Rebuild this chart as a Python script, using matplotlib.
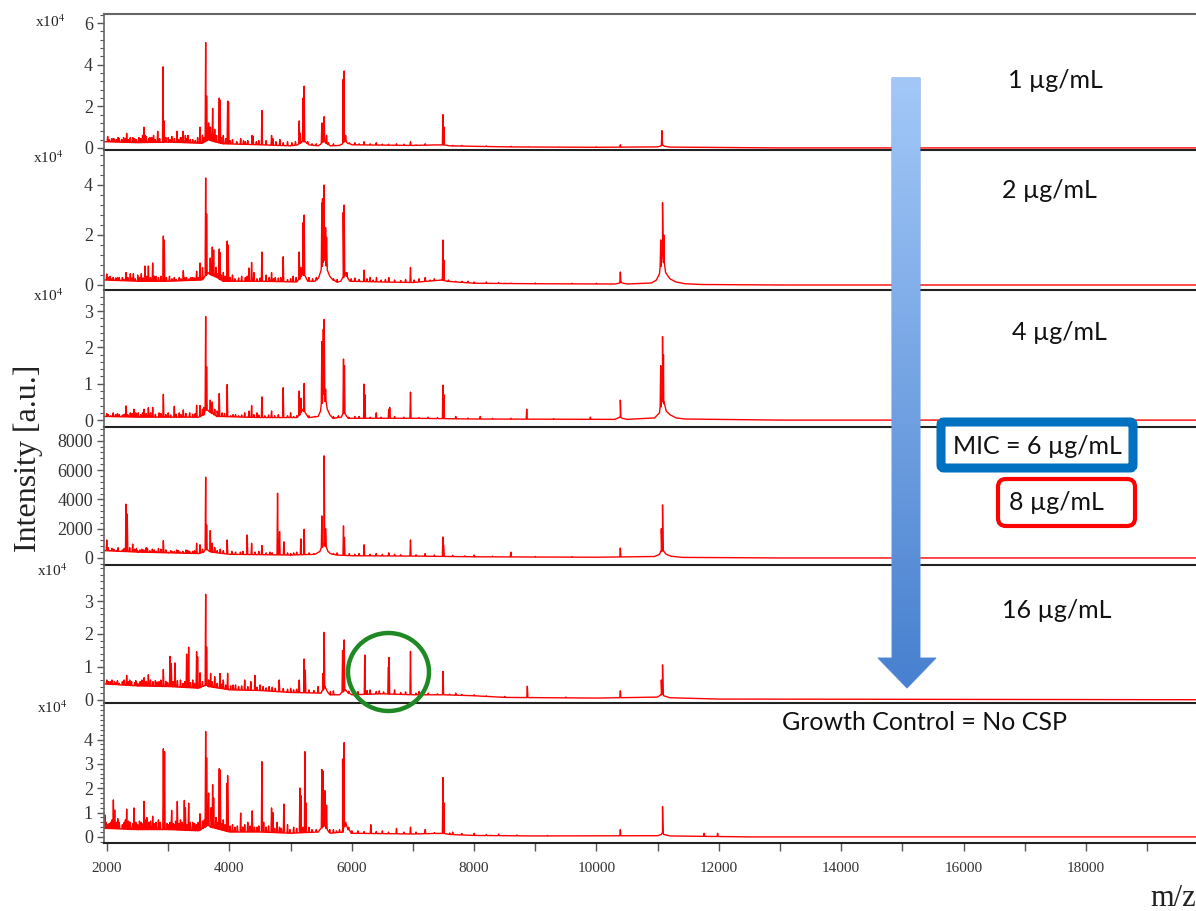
import numpy as np
import matplotlib
matplotlib.use('Agg')
import matplotlib.pyplot as plt
from matplotlib.ticker import FixedLocator, AutoMinorLocator
from matplotlib.patches import Polygon, FancyBboxPatch, Ellipse
from matplotlib.colors import LinearSegmentedColormap

plt.rcParams['font.family'] = ['Liberation Serif', 'DejaVu Serif']
plt.rcParams['mathtext.fontset'] = 'stix'

# ---- spectra: peak apexes (m/z, intensity), small noise spikes, baseline knots ----
# intensities in units of 1e4 except panel 4 (raw counts)
p1_mz = [2010, 2080, 2150, 2200, 2270, 2321, 2380, 2450, 2520, 2580, 2604, 2640,
         2700, 2760, 2828, 2915, 2930, 3000, 3060, 3143, 3200, 3241, 3280, 3323,
         3400, 3519, 3560, 3612, 3627, 3660, 3690, 3726, 3760, 3834, 3848, 3900,
         3971, 3985, 4050, 4184, 4300, 4372, 4386, 4531, 4689, 4710, 4825, 4950,
         5141, 5160, 5206, 5222, 5511, 5549, 5588, 5860, 5876, 5900, 6050, 6200,
         6400, 6731, 6960, 7200, 7490, 7505, 7800, 8200, 8600, 10390, 11070]
p1_int = [0.55, 0.45, 0.4, 0.45, 0.5, 0.7, 0.5, 0.45, 0.5, 0.6, 1.0, 0.55,
          0.5, 0.6, 0.8, 3.9, 1.3, 0.5, 0.55, 0.8, 0.5, 0.8, 0.6, 0.6,
          0.4, 1.0, 0.6, 5.07, 2.5, 1.2, 1.0, 1.9, 0.9, 2.4, 2.3, 0.6,
          2.25, 2.2, 0.4, 0.45, 0.35, 0.6, 0.55, 1.8, 0.6, 0.45, 0.4, 0.3,
          1.3, 0.7, 2.4, 2.97, 1.2, 1.5, 0.6, 3.3, 3.7, 0.6, 0.25, 0.3,
          0.25, 0.2, 0.3, 0.2, 1.6, 1.0, 0.12, 0.1, 0.08, 0.15, 0.83]
p1_small_mz = [2040, 2110, 2180, 2240, 2300, 2350, 2420, 2480, 2550, 2620, 2680, 2730,
               2790, 2860, 2960, 3030, 3100, 3170, 3220, 3300, 3360, 3440, 3480, 3590,
               3790, 3870, 3940, 4010, 4120, 4230, 4260, 4440, 4480, 4600, 4760, 4880,
               5020, 5080, 5280, 5350, 5420, 5620, 5700, 5960, 6120, 6300, 6500, 6600,
               6850, 7050, 7350, 7650, 8000, 8900, 9400, 10000]
p1_small_int = [0.4, 0.45, 0.5, 0.4, 0.45, 0.4, 0.5, 0.4, 0.45, 0.6, 0.45, 0.5,
                0.4, 0.45, 0.5, 0.4, 0.45, 0.4, 0.5, 0.45, 0.4, 0.35, 0.5, 0.5,
                0.6, 0.5, 0.45, 0.35, 0.3, 0.35, 0.3, 0.3, 0.35, 0.35, 0.3, 0.25,
                0.25, 0.3, 0.3, 0.2, 0.2, 0.25, 0.2, 0.25, 0.2, 0.2, 0.18, 0.18,
                0.18, 0.15, 0.15, 0.12, 0.08, 0.06, 0.05, 0.05]
p1_base_mz = [1950, 2500, 3000, 3550, 3600, 3650, 3750, 3900, 4500, 5000, 5120, 5180,
              5240, 5300, 5450, 5500, 5530, 5570, 5650, 5800, 5850, 5880, 5920, 6000,
              7000, 7480, 7600, 8500, 10000, 11000, 11060, 11080, 11110, 11200, 13000,
              19800]
p1_base = [0.3, 0.25, 0.28, 0.22, 0.3, 0.4, 0.3, 0.2, 0.15, 0.1, 0.15, 0.3,
           0.3, 0.15, 0.1, 0.2, 0.35, 0.25, 0.1, 0.12, 0.2, 0.4, 0.25, 0.15,
           0.12, 0.15, 0.1, 0.05, 0.03, 0.05, 0.1, 0.15, 0.08, 0.04, 0.0,
           0.0]

p2_mz = [1995, 2050, 2100, 2200, 2250, 2310, 2380, 2430, 2500, 2560, 2620, 2675,
         2746, 2800, 2920, 2935, 3020, 3099, 3180, 3246, 3300, 3400, 3464, 3519,
         3560, 3612, 3627, 3687, 3720, 3742, 3780, 3834, 3845, 3900, 3964, 3980,
         4050, 4200, 4319, 4363, 4400, 4531, 4600, 4689, 4750, 4879, 5042, 5141,
         5168, 5206, 5222, 5511, 5522, 5549, 5572, 5588, 5860, 5876, 5920, 6202,
         6300, 6404, 6605, 6960, 7100, 7200, 7350, 7490, 7505, 7700, 7900, 8600,
         10390, 11050, 11080, 11100]
p2_int = [0.44, 0.35, 0.3, 0.3, 0.3, 0.5, 0.45, 0.45, 0.4, 0.45, 0.76, 0.76,
          0.88, 0.35, 1.96, 1.8, 0.35, 0.3, 0.3, 0.57, 0.3, 0.3, 0.55, 0.88,
          0.7, 4.28, 2.84, 1.08, 1.52, 1.4, 0.7, 1.44, 1.3, 0.5, 1.76, 1.6,
          0.4, 0.35, 0.68, 0.9, 0.5, 1.32, 0.4, 0.5, 0.3, 1.13, 0.35, 1.32,
          0.7, 2.5, 2.8, 3.28, 3.45, 4.0, 2.3, 1.9, 2.9, 3.2, 0.5, 0.6,
          0.3, 0.3, 0.3, 0.7, 0.25, 0.3, 0.25, 1.8, 1.0, 0.15, 0.15, 0.08,
          0.52, 1.8, 3.3, 2.0]
p2_small_mz = [2020, 2080, 2140, 2170, 2280, 2340, 2410, 2460, 2530, 2590, 2650, 2710,
               2770, 2840, 2880, 2970, 3060, 3130, 3210, 3270, 3340, 3370, 3430, 3490,
               3800, 3870, 3930, 4010, 4090, 4150, 4260, 4290, 4450, 4500, 4650, 4720,
               4800, 4840, 4950, 5000, 5090, 5300, 5360, 5420, 5700, 5760, 5990, 6050,
               6120, 6250, 6350, 6480, 6550, 6700, 6800, 6880, 7020, 7280, 7420, 7580,
               7800, 8000, 8200, 8400, 9000, 9600, 10000]
p2_small_int = [0.3, 0.25, 0.28, 0.3, 0.22, 0.3, 0.28, 0.25, 0.3, 0.28, 0.35, 0.3,
                0.35, 0.3, 0.35, 0.3, 0.25, 0.22, 0.25, 0.3, 0.25, 0.3, 0.28, 0.3,
                0.45, 0.4, 0.35, 0.3, 0.25, 0.28, 0.3, 0.35, 0.25, 0.28, 0.3, 0.25,
                0.28, 0.3, 0.22, 0.25, 0.3, 0.3, 0.25, 0.3, 0.25, 0.22, 0.25, 0.28,
                0.22, 0.25, 0.2, 0.2, 0.22, 0.2, 0.18, 0.22, 0.2, 0.2, 0.18, 0.2,
                0.15, 0.12, 0.12, 0.1, 0.08, 0.07, 0.07]
p2_base_mz = [1950, 2500, 3000, 3550, 3600, 3650, 3700, 3800, 3900, 4500, 5100, 5150,
              5190, 5240, 5280, 5400, 5460, 5500, 5530, 5550, 5570, 5600, 5640, 5700,
              5760, 5820, 5860, 5890, 5930, 5970, 6500, 7000, 7470, 7550, 8000, 9000,
              10300, 10380, 10400, 10420, 10500, 10900, 10980, 11030, 11060, 11080,
              11100, 11130, 11200, 11300, 11450, 11700, 13000, 19800]
p2_base = [0.2, 0.15, 0.15, 0.2, 0.35, 0.5, 0.4, 0.3, 0.15, 0.15, 0.12, 0.25,
           0.45, 0.35, 0.15, 0.15, 0.3, 0.6, 1.0, 1.3, 1.0, 0.6, 0.35, 0.2,
           0.12, 0.15, 0.3, 0.5, 0.3, 0.15, 0.12, 0.1, 0.2, 0.15, 0.07, 0.05,
           0.04, 0.08, 0.12, 0.08, 0.04, 0.08, 0.2, 0.45, 0.9, 1.3,
           0.9, 0.5, 0.25, 0.12, 0.05, 0.02, 0.0, 0.0]

p3_mz = [1995, 2100, 2200, 2310, 2380, 2440, 2510, 2604, 2675, 2746, 2920, 3000,
         3099, 3180, 3246, 3350, 3464, 3519, 3612, 3627, 3687, 3720, 3834, 3964,
         4100, 4250, 4319, 4363, 4450, 4531, 4689, 4879, 5000, 5141, 5168, 5222,
         5511, 5535, 5549, 5572, 5865, 5880, 6202, 6215, 6400, 6605, 6620, 6960,
         7490, 7505, 7700, 8100, 8860, 9900, 10390, 11050, 11080, 11095]
p3_int = [0.18, 0.2, 0.15, 0.39, 0.2, 0.3, 0.2, 0.3, 0.34, 0.35, 0.71, 0.2,
          0.38, 0.2, 0.28, 0.2, 0.41, 0.4, 2.85, 1.47, 0.55, 0.5, 0.73, 0.98,
          0.15, 0.2, 0.25, 0.4, 0.2, 0.64, 0.25, 0.89, 0.2, 0.8, 0.6, 1.01,
          2.16, 2.5, 2.77, 0.85, 1.68, 1.5, 0.99, 0.7, 0.2, 0.3, 0.35, 0.77,
          0.96, 0.7, 0.1, 0.1, 0.3, 0.08, 0.55, 1.5, 2.3, 1.8]
p3_small_mz = [2020, 2060, 2140, 2170, 2250, 2280, 2340, 2410, 2470, 2550, 2580, 2640,
               2710, 2790, 2850, 2880, 2960, 3040, 3130, 3210, 3290, 3400, 3440, 3560,
               3580, 3760, 3800, 3880, 3920, 4020, 4060, 4150, 4200, 4400, 4480, 4580,
               4640, 4740, 4800, 4950, 5050, 5100, 5300, 5400, 5700, 5780, 5950, 6050,
               6120, 6300, 6480, 6700, 6850, 7100, 7250, 7400, 7900, 8300, 8600, 9300]
p3_small_int = [0.15, 0.12, 0.15, 0.18, 0.14, 0.16, 0.15, 0.18, 0.2, 0.15, 0.2, 0.18,
                0.2, 0.16, 0.2, 0.18, 0.15, 0.14, 0.16, 0.15, 0.18, 0.16, 0.18, 0.3,
                0.35, 0.3, 0.25, 0.2, 0.18, 0.12, 0.15, 0.12, 0.14, 0.15, 0.14, 0.12,
                0.14, 0.12, 0.15, 0.12, 0.1, 0.12, 0.12, 0.1, 0.1, 0.12, 0.08, 0.1,
                0.1, 0.08, 0.08, 0.1, 0.08, 0.07, 0.08, 0.07, 0.06, 0.05, 0.05, 0.04]
p3_base_mz = [1950, 2500, 3500, 3580, 3620, 3660, 3700, 3800, 4500, 5100, 5150, 5190,
              5240, 5300, 5450, 5490, 5520, 5540, 5560, 5600, 5640, 5700, 5830, 5870,
              5910, 5950, 7000, 8000, 10300, 10390, 10420, 10500, 10950, 11030, 11060,
              11080, 11100, 11140, 11200, 11300, 11450, 13000, 19800]
p3_base = [0.1, 0.08, 0.08, 0.15, 0.3, 0.25, 0.2, 0.1, 0.07, 0.07, 0.15, 0.3,
           0.2, 0.07, 0.1, 0.25, 0.55, 0.8, 0.6, 0.3, 0.15, 0.05, 0.08, 0.2,
           0.12, 0.05, 0.05, 0.03, 0.02, 0.08, 0.05, 0.02, 0.06, 0.2, 0.45,
           0.65, 0.45, 0.25, 0.15, 0.06, 0.03, 0.0, 0.0]

p4_mz = [1995, 2050, 2150, 2200, 2310, 2330, 2419, 2500, 2600, 2700, 2800, 2920,
         3000, 3100, 3200, 3350, 3464, 3519, 3612, 3627, 3687, 3720, 3800, 3964,
         4100, 4291, 4363, 4531, 4600, 4787, 4820, 4890, 5000, 5168, 5222, 5511,
         5549, 5572, 5865, 5880, 6202, 6605, 6960, 7200, 7490, 7500, 8000, 8600,
         10390, 11060, 11080]
p4_int = [1230, 500, 500, 450, 3670, 3000, 950, 500, 550, 500, 450, 1180,
          400, 450, 400, 450, 1000, 900, 5510, 2250, 1870, 1000, 500, 1230,
          400, 1570, 1000, 850, 350, 4420, 1800, 1100, 300, 1300, 1960, 2870,
          6970, 2000, 2190, 1400, 900, 350, 1230, 300, 1430, 900, 200, 400,
          680, 2000, 3620]
p4_small_mz = [2020, 2080, 2110, 2180, 2250, 2280, 2370, 2450, 2480, 2540, 2570, 2640,
               2660, 2740, 2770, 2840, 2880, 2960, 3040, 3060, 3140, 3170, 3240, 3290,
               3320, 3400, 3430, 3560, 3760, 3850, 3900, 4040, 4180, 4220, 4420, 4480,
               4660, 4700, 4950, 5050, 5100, 5300, 5380, 5700, 5760, 5960, 6050, 6120,
               6300, 6400, 6500, 6700, 6800, 7050, 7350, 7650, 7850, 8300, 9000, 9600]
p4_small_int = [700, 650, 600, 700, 550, 650, 700, 600, 650, 550, 600, 700,
                650, 600, 550, 650, 600, 550, 500, 450, 550, 500, 450, 550,
                500, 450, 500, 600, 700, 600, 500, 450, 400, 450, 400, 450,
                400, 350, 350, 350, 400, 350, 300, 300, 350, 300, 250, 300,
                250, 300, 250, 250, 220, 220, 200, 180, 150, 130, 100, 90]
p4_base_mz = [1950, 2500, 3000, 3500, 3580, 3620, 3660, 3700, 4000, 5000, 5400, 5480,
              5520, 5545, 5570, 5610, 5650, 5750, 6000, 7000, 8000, 10000, 10950,
              11030, 11060, 11080, 11100, 11140, 11220, 11400, 13000, 19800]
p4_base = [500, 400, 350, 300, 400, 600, 500, 400, 250, 200, 250, 450,
           800, 1000, 800, 450, 300, 200, 150, 130, 80, 50, 100,
           250, 450, 600, 450, 250, 120, 40, 0, 0]

p5_mz = [1995, 2050, 2120, 2200, 2250, 2321, 2400, 2500, 2604, 2675, 2750, 2850,
         2920, 3029, 3050, 3111, 3200, 3301, 3334, 3400, 3464, 3480, 3519, 3612,
         3627, 3693, 3760, 3845, 3900, 3971, 4100, 4250, 4350, 4417, 4500, 4650,
         4814, 5000, 5141, 5222, 5240, 5450, 5530, 5549, 5850, 5876, 6213, 6300,
         6600, 6611, 6700, 6960, 7100, 7492, 7700, 8000, 8870, 9500, 10390, 11060,
         11080]
p5_int = [0.6, 0.55, 0.55, 0.5, 0.55, 0.74, 0.55, 0.5, 0.67, 0.76, 0.55, 0.55,
          0.92, 1.32, 1.1, 1.12, 0.6, 1.39, 1.6, 0.6, 1.46, 1.3, 0.82, 3.21,
          1.6, 0.8, 0.7, 0.8, 0.6, 0.8, 0.45, 0.6, 0.55, 0.74, 0.45, 0.4,
          0.6, 0.35, 0.6, 1.24, 0.9, 0.4, 0.8, 2.05, 1.5, 1.82, 1.36, 0.3,
          1.0, 1.29, 0.3, 1.47, 0.25, 0.86, 0.2, 0.15, 0.41, 0.08, 0.27, 0.6,
          1.06]
p5_small_mz = [2020, 2080, 2150, 2170, 2280, 2350, 2370, 2450, 2470, 2540, 2570, 2640,
               2710, 2790, 2820, 2880, 2960, 2990, 3080, 3150, 3240, 3270, 3360, 3430,
               3560, 3660, 3720, 3800, 3880, 3940, 4020, 4060, 4150, 4200, 4300, 4450,
               4550, 4600, 4700, 4750, 4880, 4950, 5050, 5100, 5300, 5380, 5650, 5700,
               5950, 6050, 6100, 6250, 6400, 6450, 6520, 6800, 6880, 7050, 7250, 7400,
               7600, 7800, 8200, 8500]
p5_small_int = [0.55, 0.6, 0.52, 0.58, 0.6, 0.55, 0.6, 0.52, 0.58, 0.55, 0.6, 0.56,
                0.6, 0.58, 0.54, 0.6, 0.56, 0.52, 0.55, 0.58, 0.5, 0.55, 0.52, 0.5,
                0.55, 0.6, 0.55, 0.5, 0.48, 0.45, 0.42, 0.45, 0.4, 0.42, 0.4, 0.38,
                0.4, 0.36, 0.38, 0.35, 0.34, 0.32, 0.3, 0.32, 0.3, 0.28, 0.25, 0.27,
                0.26, 0.24, 0.25, 0.28, 0.25, 0.27, 0.24, 0.22, 0.24, 0.2, 0.2, 0.18,
                0.17, 0.16, 0.12, 0.1]
p5_base_mz = [1950, 2500, 3000, 3500, 3620, 3660, 4000, 4500, 5000, 5500, 5530, 5560,
              5600, 5650, 5800, 5860, 5900, 5950, 6000, 6500, 7000, 7500, 8000, 8500,
              10000, 11000, 11060, 11080, 11100, 11200, 12000, 19800]
p5_base = [0.48, 0.42, 0.4, 0.35, 0.45, 0.4, 0.3, 0.28, 0.22, 0.2, 0.3, 0.4,
           0.25, 0.15, 0.15, 0.25, 0.3, 0.2, 0.15, 0.18, 0.15, 0.15, 0.12, 0.07,
           0.05, 0.08, 0.15, 0.2, 0.12, 0.06, 0.02, 0.0]

p6_mz = [1967, 2010, 2060, 2103, 2125, 2200, 2250, 2321, 2380, 2441, 2500, 2560,
         2604, 2650, 2746, 2800, 2920, 2940, 3000, 3056, 3100, 3148, 3200, 3263,
         3280, 3334, 3400, 3519, 3612, 3627, 3660, 3700, 3726, 3742, 3780, 3834,
         3850, 3900, 3960, 3971, 4050, 4184, 4250, 4300, 4373, 4450, 4531, 4560,
         4689, 4710, 4780, 4890, 4950, 5050, 5152, 5168, 5234, 5250, 5300, 5511,
         5530, 5560, 5588, 5700, 5850, 5876, 5950, 6100, 6311, 6500, 6731, 6960,
         7200, 7490, 7505, 7650, 8000, 8400, 10390, 11080, 11760, 11980]
p6_int = [0.9, 0.5, 0.6, 1.52, 1.1, 0.6, 0.5, 1.14, 0.6, 1.19, 0.5, 0.6,
          1.46, 0.8, 0.85, 0.6, 3.62, 3.5, 0.5, 1.09, 0.5, 1.46, 0.7, 1.5,
          1.2, 1.39, 0.6, 0.95, 4.33, 3.25, 1.8, 1.2, 2.15, 1.6, 0.8, 2.8,
          2.75, 0.7, 2.2, 2.52, 0.5, 0.98, 0.5, 0.6, 1.07, 0.4, 3.09, 0.6,
          1.19, 1.0, 0.6, 1.35, 0.5, 0.4, 2.01, 1.7, 3.5, 1.4, 0.4, 2.77,
          2.7, 1.9, 1.3, 0.3, 3.2, 3.87, 0.4, 0.25, 0.5, 0.25, 0.35, 0.4,
          0.3, 2.44, 1.4, 0.2, 0.15, 0.12, 0.3, 1.24, 0.15, 0.15]
p6_small_mz = [1985, 2035, 2080, 2150, 2175, 2280, 2300, 2350, 2420, 2470, 2530, 2590,
               2630, 2680, 2710, 2770, 2840, 2870, 2980, 3030, 3080, 3120, 3180, 3230,
               3310, 3360, 3430, 3460, 3490, 3560, 3590, 3810, 3880, 3930, 4010, 4090,
               4130, 4220, 4340, 4410, 4480, 4600, 4640, 4740, 4820, 4850, 4990, 5100,
               5200, 5350, 5420, 5640, 5750, 5800, 6000, 6200, 6400, 6600, 6850, 7050,
               7350, 7600, 7800, 8200, 8700, 9200]
p6_small_int = [0.6, 0.55, 0.7, 0.6, 0.75, 0.6, 0.7, 0.65, 0.55, 0.6, 0.65, 0.55,
                0.7, 0.6, 0.65, 0.55, 0.7, 0.6, 0.55, 0.6, 0.55, 0.65, 0.55, 0.6,
                0.5, 0.6, 0.55, 0.5, 0.6, 0.65, 0.7, 0.6, 0.55, 0.5, 0.45, 0.4,
                0.45, 0.4, 0.45, 0.4, 0.45, 0.4, 0.45, 0.35, 0.4, 0.35, 0.3, 0.35,
                0.4, 0.3, 0.3, 0.3, 0.25, 0.3, 0.25, 0.22, 0.22, 0.2, 0.2, 0.2,
                0.18, 0.16, 0.14, 0.1, 0.08, 0.06]
p6_base_mz = [1950, 2500, 3000, 3500, 3600, 3640, 3700, 4000, 4500, 5000, 5450, 5520,
              5550, 5600, 5650, 5850, 5880, 5900, 5930, 6000, 7000, 7480, 7600, 8000,
              9000, 11000, 11060, 11080, 11100, 11200, 12500, 19800]
p6_base = [0.35, 0.3, 0.3, 0.25, 0.4, 0.5, 0.4, 0.2, 0.2, 0.15, 0.2, 0.4,
           0.5, 0.3, 0.15, 0.2, 0.45, 0.6, 0.35, 0.15, 0.12, 0.15, 0.1, 0.06,
           0.04, 0.05, 0.1, 0.15, 0.1, 0.04, 0.0, 0.0]

ytick_sets = [[0, 2, 4, 6], [0, 2, 4], [0, 1, 2, 3], [0, 2000, 4000, 6000, 8000],
              [0, 1, 2, 3], [0, 1, 2, 3, 4]]
xticks = [2000, 4000, 6000, 8000, 10000, 12000, 14000, 16000, 18000]

conc_labels = ['1 µg/mL', '2 µg/mL', '4 µg/mL', '16 µg/mL']


def build_trace(pk_mz, pk_int, b_mz, b_int, w=9):
    pk_mz = np.asarray(pk_mz, float)
    pk_int = np.asarray(pk_int, float)
    foot = np.interp(pk_mz, b_mz, b_int)
    pk_int = np.maximum(pk_int, foot)
    xs = np.concatenate([b_mz, pk_mz - w, pk_mz, pk_mz + w])
    ys = np.concatenate([b_int, foot, pk_int, foot])
    order = np.argsort(xs, kind='stable')
    return xs[order], ys[order]


W, H = 1196, 911
fig = plt.figure(figsize=(W / 100, H / 100), dpi=100)

edges = [14, 150, 290, 427, 565, 703, 843]
ylims = [(-0.1, 6.44), (-0.2, 5.4), (-0.19, 3.58), (-480, 8940), (-0.1, 4.1), (-0.25, 5.5)]
spectra = [(p1_mz + p1_small_mz, p1_int + p1_small_int, p1_base_mz, p1_base),
           (p2_mz + p2_small_mz, p2_int + p2_small_int, p2_base_mz, p2_base),
           (p3_mz + p3_small_mz, p3_int + p3_small_int, p3_base_mz, p3_base),
           (p4_mz + p4_small_mz, p4_int + p4_small_int, p4_base_mz, p4_base),
           (p5_mz + p5_small_mz, p5_int + p5_small_int, p5_base_mz, p5_base),
           (p6_mz + p6_small_mz, p6_int + p6_small_int, p6_base_mz, p6_base)]

left = 104 / W
for i, (pm, pi, bm, bi) in enumerate(spectra):
    top, bot = edges[i], edges[i + 1]
    ax = fig.add_axes([left, 1 - bot / H, 1 - left, (bot - top) / H])
    x, y = build_trace(pm, pi, bm, bi)
    ax.plot(x, y, color='#ff0000', lw=1.0)
    ax.set_xlim(1950, 19800)
    ax.set_ylim(*ylims[i])
    ax.yaxis.set_major_locator(FixedLocator(ytick_sets[i]))
    ax.yaxis.set_minor_locator(AutoMinorLocator(5))
    ax.tick_params(axis='y', which='major', direction='out', length=5, width=1,
                   color='#555555', labelsize=13, labelcolor='#333333', pad=3)
    ax.tick_params(axis='y', which='minor', direction='out', length=3, width=0.8,
                   color='#555555')
    ax.spines['right'].set_visible(False)
    ax.spines['top'].set_visible(i == 0)
    ax.spines['top'].set_color('#666666')
    ax.spines['top'].set_linewidth(1.5)
    ax.spines['left'].set_color('#666666')
    ax.spines['left'].set_linewidth(1.2)
    ax.spines['bottom'].set_color('#222222')
    ax.spines['bottom'].set_linewidth(1.5)
    ax.patch.set_alpha(0)
    if i < 5:
        ax.set_xticks([])
    else:
        ax.set_xticks(xticks)
        ax.xaxis.set_minor_locator(AutoMinorLocator(2))
        ax.tick_params(axis='x', which='both', direction='out', length=6, width=1,
                       color='#555555', labelsize=11, labelcolor='#333333', pad=8)

# overlay in pixel coordinates for annotations
ov = fig.add_axes([0, 0, 1, 1])
ov.set_zorder(10)
ov.patch.set_alpha(0)
ov.axis('off')

for (px, py) in [(50, 22), (48, 158), (48, 296), (52, 571), (52, 708)]:
    ov.text(px, py, 'x10$^{4}$', ha='center', va='center', fontsize=11, color='#222222')

ov.text(28, 458, 'Intensity [a.u.]', rotation=90, ha='center', va='center',
        fontsize=23, color='#222222')
ov.text(1173, 898, 'm/z', ha='center', va='center', fontsize=22, color='#222222')

# gradient arrow
arrow_pts = [(892, 78), (920, 78), (920, 658), (936, 658), (907, 688), (878, 658), (892, 658)]
arrow = Polygon(arrow_pts, closed=True, facecolor='none', edgecolor='#6d9de0', lw=0.8)
ov.add_patch(arrow)
cmap = LinearSegmentedColormap.from_list('arr', ['#a3c8f8', '#4780cf'])
grad = np.linspace(0, 1, 256).reshape(-1, 1)
im = ov.imshow(grad, extent=(878, 936, 688, 78), origin='upper', cmap=cmap,
               aspect='auto', zorder=1)
im.set_clip_path(arrow)

sans = ['Lato', 'DejaVu Sans']
label_pos = [(1055, 80), (1049, 190), (1059, 333), (1057, 610)]
for (lx, ly), lab in zip(label_pos, conc_labels):
    ov.text(lx, ly, lab, ha='center', va='center', fontsize=18, family=sans, color='#111111')

ov.text(925, 722, 'Growth Control = No CSP', ha='center', va='center', fontsize=18,
        family=sans, color='#111111')

mic_box = FancyBboxPatch((941, 422), 192, 46, boxstyle='round,pad=0,rounding_size=3',
                         facecolor='white', edgecolor='#0070c0', lw=6.5, zorder=3)
ov.add_patch(mic_box)
ov.text(1037, 446, 'MIC = 6 µg/mL', ha='center', va='center', fontsize=18,
        family=sans, color='#111111', zorder=4)

red_box = FancyBboxPatch((998, 479), 137, 47, boxstyle='round,pad=0,rounding_size=8',
                         facecolor='white', edgecolor='#ff0000', lw=3, zorder=3)
ov.add_patch(red_box)
ov.text(1056, 503, '8 µg/mL', ha='center', va='center', fontsize=18,
        family=sans, color='#111111', zorder=4)

circ = Ellipse((388.5, 672), 81, 78, facecolor='none', edgecolor='#1f8a24', lw=3.2, zorder=5)
ov.add_patch(circ)

ov.set_xlim(0, W)
ov.set_ylim(H, 0)

fig.savefig('out.png', dpi=100, facecolor='white')
